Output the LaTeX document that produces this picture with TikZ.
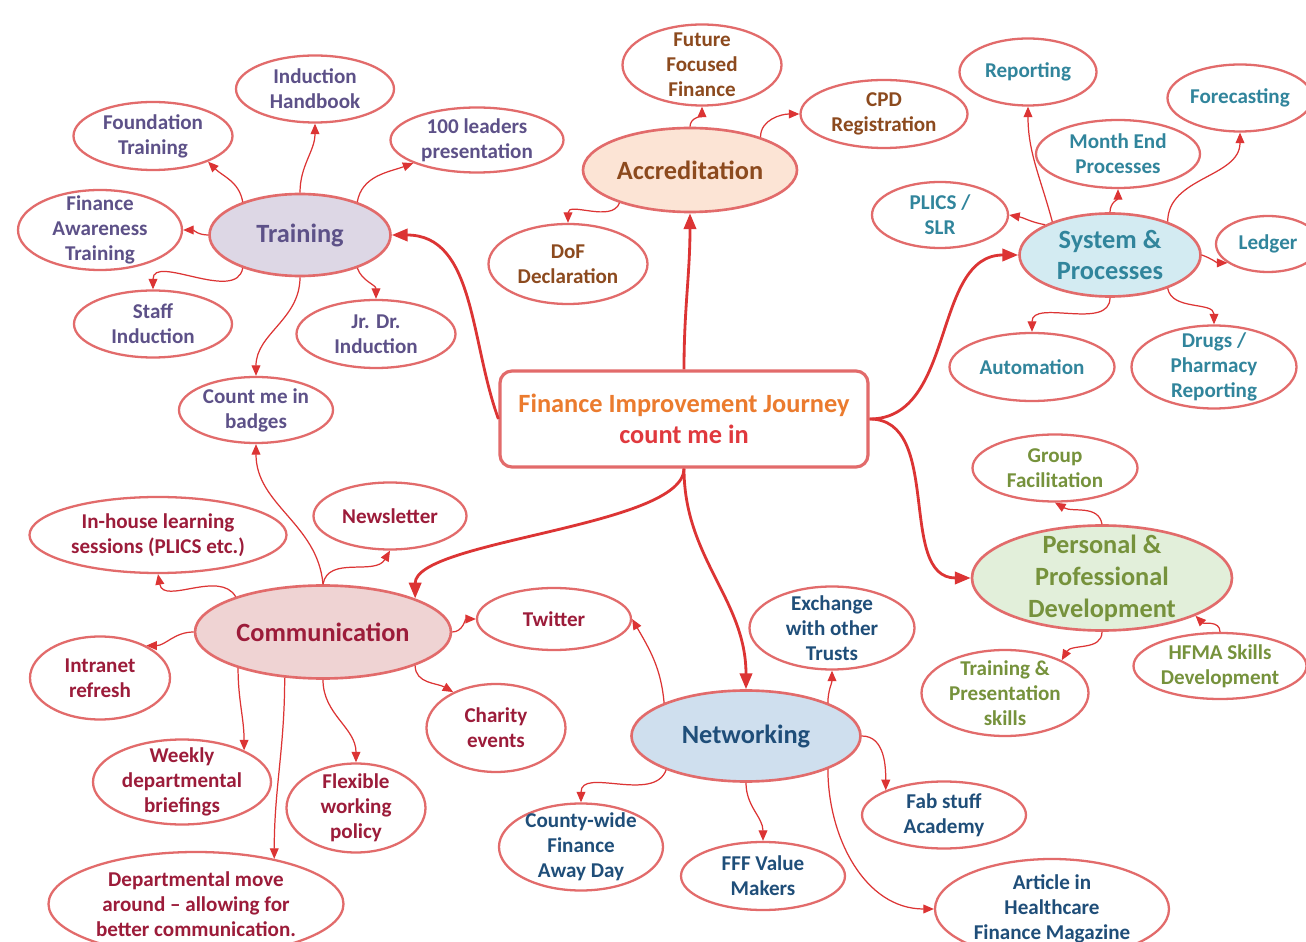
\documentclass[tikz,border=0pt]{standalone}
\usepackage{fontspec}
\setmainfont{Carlito}
\usetikzlibrary{shapes.geometric,arrows.meta}
\definecolor{rim}{HTML}{E26B6B}
\definecolor{link}{HTML}{DC3434}
\definecolor{jOrange}{HTML}{EB7B2E}
\definecolor{jRed}{HTML}{E0393E}
\definecolor{trnTxt}{HTML}{5D5188}
\definecolor{trnFill}{HTML}{DDD7E5}
\definecolor{accTxt}{HTML}{8C4A1E}
\definecolor{accFill}{HTML}{FCE4D5}
\definecolor{sysTxt}{HTML}{31859C}
\definecolor{sysFill}{HTML}{D3EBF2}
\definecolor{ppdTxt}{HTML}{76923C}
\definecolor{ppdFill}{HTML}{E2EFDA}
\definecolor{netTxt}{HTML}{1F4E79}
\definecolor{netFill}{HTML}{CFDFEE}
\definecolor{comTxt}{HTML}{9C1C3A}
\definecolor{comFill}{HTML}{EFD3D3}
\tikzset{
  bub/.style={ellipse, draw=rim, line width=1.3pt, fill=white, inner xsep=-2pt, inner ysep=-6pt,
    align=center, font=\bfseries\fontsize{12}{14.2}\selectfont},
  hub/.style={bub, line width=1.5pt, font=\bfseries\fontsize{15}{17.6}\selectfont},
  sz/.style 2 args={minimum width=#1*0.02cm, minimum height=#2*0.02cm},
  twig/.style={link, line width=0.7pt, -{Triangle[length=6pt,width=5pt]}},
  trunk/.style={link, line width=1.6pt, -{Triangle[length=9pt,width=7pt]}}
}
\begin{document}
\begin{tikzpicture}[x=0.02cm,y=0.02cm]
  \clip (0,0) rectangle (1306,-942);
  \fill[white] (0,0) rectangle (1306,-942);
  \node[rectangle, rounded corners=0.24cm, draw=rim, line width=1.8pt, fill=white, sz={368}{96},
    align=center, text=jRed, font=\bfseries\fontsize{15}{18}\selectfont] (hubc) at (684,-419)
    {\textcolor{jOrange}{Finance Improvement Journey}\\count me in};

  \node[hub, fill=trnFill, text=trnTxt, sz={181}{82}] (train) at (300,-235) {Training};
  \node[bub, text=trnTxt, sz={158}{67}] (indhb) at (315,-89) {Induction\\Handbook};
  \node[bub, text=trnTxt, sz={159}{68}] (found) at (153,-136) {Foundation\\Training};
  \node[bub, text=trnTxt, sz={173}{65}] (lead) at (477,-140) {100 leaders\\presentation};
  \node[bub, text=trnTxt, sz={164}{80}] (finaw) at (100,-230) {Finance\\Awareness\\Training};
  \node[bub, text=trnTxt, sz={158}{67}] (staff) at (153,-324) {Staff\\Induction};
  \node[bub, text=trnTxt, sz={159}{68}] (jrdr) at (376,-334) {Jr. Dr.\\Induction};
  \node[bub, text=trnTxt, sz={154}{66}] (badge) at (256,-410) {Count me in\\badges};

  \node[hub, fill=accFill, text=accTxt, sz={214}{84}] (accr) at (690,-170) {Accreditation};
  \node[bub, text=accTxt, sz={159}{81}] (ffin) at (702,-65) {Future\\Focused\\Finance};
  \node[bub, text=accTxt, sz={167}{68}] (cpd) at (884,-114) {CPD\\Registration};
  \node[bub, text=accTxt, sz={159}{80}] (dof) at (568,-264) {DoF\\Declaration};

  \node[hub, fill=sysFill, text=sysTxt, sz={181}{83}] (sys) at (1110,-255) {System \&\\Processes};
  \node[bub, text=sysTxt, sz={137}{67}] (rep) at (1028,-72) {Reporting};
  \node[bub, text=sysTxt, sz={145}{67}] (fore) at (1240,-98) {Forecasting};
  \node[bub, text=sysTxt, sz={164}{68}] (mend) at (1118,-154) {Month End\\Processes};
  \node[bub, text=sysTxt, sz={136}{66}] (plics) at (940,-215) {PLICS /\\SLR};
  \node[bub, text=sysTxt, sz={104}{56}] (ledg) at (1268,-244) {Ledger};
  \node[bub, text=sysTxt, sz={165}{68}] (auto) at (1032,-367) {Automation};
  \node[bub, text=sysTxt, sz={165}{83}] (drug) at (1214,-367) {Drugs /\\Pharmacy\\Reporting};

  \node[hub, fill=ppdFill, text=ppdTxt, sz={260}{105}, font=\bfseries\fontsize{15}{18.2}\selectfont]
    (ppd) at (1102,-578) {Personal \&\\Professional\\Development};
  \node[bub, text=ppdTxt, sz={165}{67}] (grp) at (1055,-468) {Group\\Facilitation};
  \node[bub, text=ppdTxt, sz={167}{86}] (trp) at (1005,-693) {Training \&\\Presentation\\skills};
  \node[bub, text=ppdTxt, sz={173}{66}] (hfma) at (1220,-666) {HFMA Skills\\Development};

  \node[hub, fill=netFill, text=netTxt, sz={229}{91}] (net) at (746,-736) {Networking};
  \node[bub, text=netTxt, sz={165}{83}] (exch) at (832,-628) {Exchange\\with other\\Trusts};
  \node[bub, text=netTxt, sz={164}{67}] (fab) at (944,-815) {Fab stuff\\Academy};
  \node[bub, text=netTxt, sz={164}{87}] (cnty) at (581,-847) {County-wide\\Finance\\Away Day};
  \node[bub, text=netTxt, sz={164}{68}] (fff) at (763,-876) {FFF Value\\Makers};
  \node[bub, text=netTxt, sz={234}{100}] (art) at (1052,-909) {Article in\\Healthcare\\Finance Magazine};

  \node[hub, fill=comFill, text=comTxt, sz={256}{93}] (comm) at (323,-632) {Communication};
  \node[bub, text=comTxt, sz={153}{67}] (news) at (390,-516) {Newsletter};
  \node[bub, text=comTxt, sz={257}{76}] (inh) at (158,-535) {In-house learning\\sessions (PLICS etc.)};
  \node[bub, text=comTxt, sz={140}{83}] (intr) at (100,-678) {Intranet\\refresh};
  \node[bub, text=comTxt, sz={178}{85}] (week) at (182,-782) {Weekly\\departmental\\briefings};
  \node[bub, text=comTxt, sz={139}{89}] (flex) at (356,-808) {Flexible\\working\\policy};
  \node[bub, text=comTxt, sz={295}{104}] (dmove) at (196,-904) {Departmental move\\around – allowing for\\better communication.};
  \node[bub, text=comTxt, sz={154}{62}] (twit) at (554,-619) {Twitter};
  \node[bub, text=comTxt, sz={139}{88}] (char) at (496,-728) {Charity\\events};

  \begin{scope}[trunk]
    \draw (hubc.west) to[out=110,in=0] (train.east);
    \draw (hubc.north) to[out=90,in=-90] (accr.south);
    \draw (hubc.east) to[out=0,in=180] (sys.west);
    \draw (hubc.east) to[out=0,in=180] (ppd.west);
    \draw (hubc.south) to[out=-90,in=90,looseness=0.5] (comm.20);
    \draw (hubc.south) to[out=-90,in=90] (net.north);
  \end{scope}

  \begin{scope}[twig]
    \draw (train.north) to[out=90,in=-90] (indhb.south);
    \draw (train.150) to[out=100,in=-45] (found.-25);
    \draw (train.west) to[out=180,in=0] (finaw.east);
    \draw (train.-150) to[out=-100,in=90] (staff.north);
    \draw (train.-30) to[out=-70,in=90] (jrdr.north);
    \draw (train.30) to[out=80,in=200] (lead.-160);
    \draw (train.south) to[out=-90,in=90] (badge.north);

    \draw (accr.north) to[out=90,in=-90] (ffin.south);
    \draw (accr.25) to[out=90,in=180] (cpd.west);
    \draw (accr.-155) to[out=-110,in=90] (dof.north);

    \draw (sys.150) to[out=105,in=-90] (rep.south);
    \draw (sys.155) to[out=170,in=-10] (plics.east);
    \draw (sys.north) to[out=90,in=-90] (mend.south);
    \draw (sys.30) to[out=90,in=-90] (fore.south);
    \draw (sys.east) to[out=-20,in=180] (ledg.-155);
    \draw (sys.south) to[out=-90,in=90] (auto.north);
    \draw (sys.-30) to[out=-80,in=90] (drug.north);

    \draw (ppd.north) to[out=100,in=-30] (grp.south);
    \draw (ppd.south) to[out=-90,in=60] (trp.30);
    \draw (hfma.north) to[out=90,in=-45] (ppd.-22);

    \draw (net.22) to[out=90,in=-90] (exch.south);
    \draw (net.east) to[out=0,in=90] (fab.157);
    \draw (net.-157) to[out=-110,in=90] (cnty.north);
    \draw (net.south) to[out=-90,in=90] (fff.north);
    \draw (net.-22) to[out=-90,in=180] (art.west);
    \draw (net.158) to[out=95,in=-60] (twit.east);

    \draw (comm.north) to[out=95,in=-90] (badge.south);
    \draw (comm.north) to[out=80,in=-120] (news.south);
    \draw (comm.158) to[out=120,in=-80] (inh.south);
    \draw (comm.west) to[out=180,in=0] (intr.35);
    \draw (comm.-157) to[out=-90,in=90] (week.27);
    \draw (comm.-130) to[out=-90,in=90] (dmove.30);
    \draw (comm.south) to[out=-90,in=90] (flex.north);
    \draw (comm.-20) to[out=-90,in=150] (char.140);
    \draw (comm.east) to[out=0,in=180] (twit.west);
  \end{scope}
\end{tikzpicture}
\end{document}
